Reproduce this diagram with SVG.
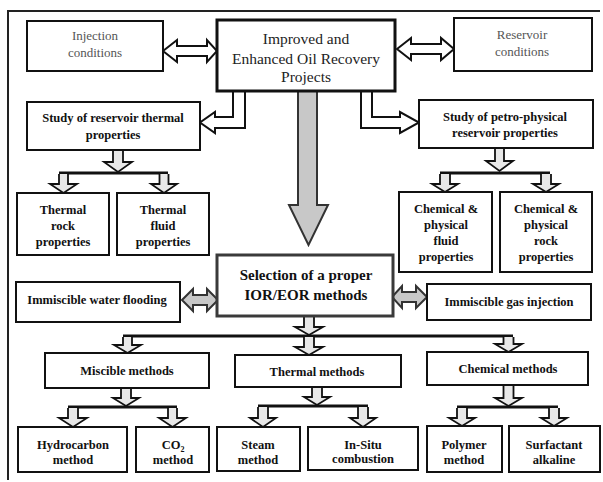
<svg xmlns="http://www.w3.org/2000/svg" width="603" height="482" viewBox="0 0 603 482">
<style>
.box{fill:#fff;stroke:#111;stroke-width:2}
.thick{fill:#fff;stroke:#111;stroke-width:3}
.selb{fill:#fff;stroke:#3a3a3a;stroke-width:3}
.t{font-size:12.5px;font-weight:bold;fill:#111;text-anchor:middle}
.g{font-size:13px;fill:#555;text-anchor:middle}
.m{font-size:15.5px;fill:#222;text-anchor:middle}
.s{font-size:15px;font-weight:bold;fill:#111;text-anchor:middle}
.ha{fill:#fff;stroke:#111;stroke-width:2;stroke-linejoin:miter}
.da{fill:#e8e8e8;stroke:#111;stroke-width:1.8;stroke-linejoin:miter}
.ga{fill:#c8c8c8;stroke:#333;stroke-width:2;stroke-linejoin:miter}
.bar{stroke:#111;stroke-width:3;fill:none}
.frame{stroke:#222;stroke-width:2;fill:none}
</style>
<path class="frame" d="M8,480 V11 H600"/>
<g id="connectors">
<path class="ha" d="M163,51 L177,40 V46 H207 V40 L217,51 L207,62 V56 H177 V62 Z"/>
<path class="ha" d="M397,49 L411,38 V44 H441 V38 L454,49 L441,60 V54 H411 V60 Z"/>
<path class="ha" d="M233,92 V117 H215 V112 L200,122.5 L215,133 V128 H245 V92"/>
<path class="ha" d="M372,92 V117 H400 V112 L419,122.5 L400,133 V128 H361 V92"/>
<path class="ga" d="M298,92 V205 H289 L308.5,245 L328,205 H317 V92"/>
<path class="ga" d="M182,300 L193,289 V295 H207 V289 L218,300 L207,311 V305 H193 V311 Z"/>
<path class="ga" d="M392,297 L402,286 V292 H416 V286 L427,297 L416,308 V302 H402 V308 Z"/>
<path class="bar" d="M59,173 H168"/>
<path class="bar" d="M440,173 H550"/>
<path class="bar" d="M123,336 H513"/>
<path class="bar" d="M68,407 H177"/>
<path class="bar" d="M258,406 H368"/>
<path class="bar" d="M457,407 H558"/>
<path class="da" d="M113,151 V162 H104 L118,172 L132,162 H123 V151"/>
<path class="da" d="M59,174 V184 H50 L63.5,193 L77,184 H68 V174"/>
<path class="da" d="M159.5,174 V184 H151 L164,193 L177,184 H168.5 V174"/>
<path class="da" d="M495,149 V161 H486 L499.5,171 L513,161 H504 V149"/>
<path class="da" d="M440,174 V184 H432 L445,192 L458,184 H450 V174"/>
<path class="da" d="M541,174 V184 H533 L546,192 L559,184 H551 V174"/>
<path class="da" d="M304,317 V327 H295 L309,335 L323,327 H314 V317"/>
<path class="da" d="M123,337 V345 H114 L127.5,353 L141,345 H132 V337"/>
<path class="da" d="M304,337 V347 H295 L309,355 L323,347 H314 V337"/>
<path class="da" d="M503.5,337 V344 H495 L508.5,352 L522,344 H513.5 V337"/>
<path class="da" d="M121,389 V398 H113 L126,406 L139,398 H131 V389"/>
<path class="da" d="M68,408 V418 H59 L73,427 L87,418 H78 V408"/>
<path class="da" d="M168,408 V418 H159 L172.5,427 L186,418 H177 V408"/>
<path class="da" d="M312,388 V397 H304 L317,405 L330,397 H322 V388"/>
<path class="da" d="M258,407 V418 H250 L263,427 L276,418 H268 V407"/>
<path class="da" d="M358,407 V418 H350 L363,427 L376,418 H368 V407"/>
<path class="da" d="M503.5,386 V398 H495 L508.5,406 L522,398 H513.5 V386"/>
<path class="da" d="M457,408 V418 H449 L462,426 L475,418 H467 V408"/>
<path class="da" d="M549,408 V418 H541 L554,426 L567,418 H559 V408"/>
</g>
<g font-family="Liberation Serif, Times New Roman, serif">
<g id="inj"><rect class="box" x="27" y="21" width="136" height="50"/><text class="g" x="95" y="40">Injection</text><text class="g" x="95" y="57">conditions</text></g>
<g id="main"><rect class="thick" x="217" y="20" width="178" height="71"/><text class="m" x="306" y="44">Improved and</text><text class="m" x="306" y="64">Enhanced Oil Recovery</text><text class="m" x="306" y="82">Projects</text></g>
<g id="res"><rect class="box" x="454" y="18" width="138" height="53"/><text class="g" x="522" y="39">Reservoir</text><text class="g" x="522" y="56">conditions</text></g>
<g id="studyT"><rect class="box" x="27" y="102" width="173" height="48"/><text class="t" x="113" y="122">Study of reservoir thermal</text><text class="t" x="113" y="139">properties</text></g>
<g id="studyP"><rect class="box" x="419" y="100" width="174" height="48"/><text class="t" x="505" y="121">Study of petro-physical</text><text class="t" x="505" y="137">reservoir properties</text></g>
<g id="tRock"><rect class="box" x="17" y="193" width="92" height="62"/><text class="t" x="63" y="214">Thermal</text><text class="t" x="63" y="230">rock</text><text class="t" x="63" y="246">properties</text></g>
<g id="tFluid"><rect class="box" x="117" y="193" width="92" height="62"/><text class="t" x="163" y="214">Thermal</text><text class="t" x="163" y="230">fluid</text><text class="t" x="163" y="246">properties</text></g>
<g id="cFluid"><rect class="box" x="399" y="192" width="93" height="80"/><text class="t" x="446" y="213">Chemical &amp;</text><text class="t" x="446" y="229">physical</text><text class="t" x="446" y="245">fluid</text><text class="t" x="446" y="261">properties</text></g>
<g id="cRock"><rect class="box" x="500" y="192" width="92" height="80"/><text class="t" x="546" y="213">Chemical &amp;</text><text class="t" x="546" y="229">physical</text><text class="t" x="546" y="245">rock</text><text class="t" x="546" y="261">properties</text></g>
<g id="sel"><rect class="selb" x="217" y="255" width="176" height="61"/><text class="s" x="306" y="280">Selection of a proper</text><text class="s" x="306" y="300">IOR/EOR methods</text></g>
<g id="water"><rect class="box" x="16" y="282" width="164" height="40"/><text class="t" x="97" y="304">Immiscible water flooding</text></g>
<g id="gas"><rect class="box" x="427" y="284" width="164" height="36"/><text class="t" x="509" y="306">Immiscible gas injection</text></g>
<g id="misc"><rect class="box" x="45" y="353" width="164" height="35"/><text class="t" x="127" y="375">Miscible methods</text></g>
<g id="therm"><rect class="box" x="235" y="355" width="166" height="32"/><text class="t" x="317" y="376">Thermal methods</text></g>
<g id="chem"><rect class="box" x="427" y="352" width="161" height="33"/><text class="t" x="508" y="373">Chemical methods</text></g>
<g id="hydro"><rect class="box" x="18" y="427" width="109" height="45"/><text class="t" x="73" y="449">Hydrocarbon</text><text class="t" x="73" y="464">method</text></g>
<g id="co2"><rect class="box" x="136" y="427" width="73" height="45"/><text class="t" x="173" y="449">CO<tspan font-size="8" dy="3">2</tspan></text><text class="t" x="173" y="464">method</text></g>
<g id="steam"><rect class="box" x="217" y="427" width="83" height="44"/><text class="t" x="258" y="449">Steam</text><text class="t" x="258" y="464">method</text></g>
<g id="insitu"><rect class="box" x="308" y="427" width="110" height="43"/><text class="t" x="363" y="449">In-Situ</text><text class="t" x="363" y="463">combustion</text></g>
<g id="poly"><rect class="box" x="427" y="426" width="75" height="46"/><text class="t" x="464" y="449">Polymer</text><text class="t" x="464" y="464">method</text></g>
<g id="surf"><rect class="box" x="509" y="426" width="91" height="46"/><text class="t" x="554" y="449">Surfactant</text><text class="t" x="554" y="464">alkaline</text></g>
</g>
</svg>
